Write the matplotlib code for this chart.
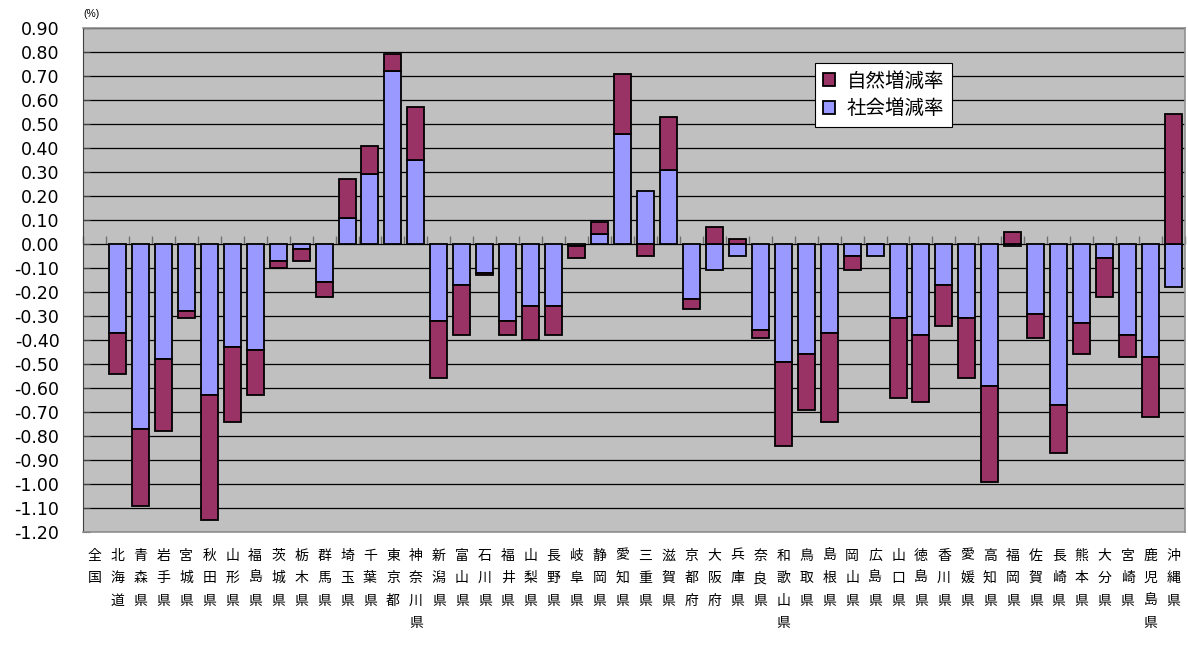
import matplotlib
matplotlib.use("Agg")
import matplotlib.pyplot as plt
import numpy as np

plt.rcParams['font.family'] = ['Liberation Sans', 'Noto Sans CJK JP', 'DejaVu Sans']

# 都道府県（全国はバーなし）
prefs = ['全国', '北海道', '青森県', '岩手県', '宮城県', '秋田県', '山形県', '福島県',
         '茨城県', '栃木県', '群馬県', '埼玉県', '千葉県', '東京都', '神奈川県',
         '新潟県', '富山県', '石川県', '福井県', '山梨県', '長野県', '岐阜県', '静岡県',
         '愛知県', '三重県', '滋賀県', '京都府', '大阪府', '兵庫県', '奈良県', '和歌山県',
         '鳥取県', '島根県', '岡山県', '広島県', '山口県', '徳島県', '香川県', '愛媛県',
         '高知県', '福岡県', '佐賀県', '長崎県', '熊本県', '大分県', '宮崎県', '鹿児島県',
         '沖縄県']

# 社会増減率 (%)
social = [np.nan, -0.37, -0.77, -0.48, -0.28, -0.63, -0.43, -0.44,
          -0.07, -0.02, -0.16, 0.11, 0.29, 0.72, 0.35,
          -0.32, -0.17, -0.12, -0.32, -0.26, -0.26, -0.01, 0.04,
          0.46, 0.22, 0.31, -0.23, -0.11, -0.05, -0.36, -0.49,
          -0.46, -0.37, -0.05, -0.05, -0.31, -0.38, -0.17, -0.31,
          -0.59, -0.01, -0.29, -0.67, -0.33, -0.06, -0.38, -0.47,
          -0.18]

# 自然増減率 (%)
natural = [np.nan, -0.17, -0.32, -0.30, -0.03, -0.52, -0.31, -0.19,
           -0.03, -0.05, -0.06, 0.16, 0.12, 0.07, 0.22,
           -0.24, -0.21, -0.01, -0.06, -0.14, -0.12, -0.05, 0.05,
           0.25, -0.05, 0.22, -0.04, 0.07, 0.02, -0.03, -0.35,
           -0.23, -0.37, -0.06, 0.00, -0.33, -0.28, -0.17, -0.25,
           -0.40, 0.05, -0.10, -0.20, -0.13, -0.16, -0.09, -0.25,
           0.54]

yticks = np.round(np.arange(-1.2, 0.91, 0.1), 2)

social = np.array(social)
natural = np.array(natural)
x = np.arange(len(prefs))
# Excel風の積み上げ：同符号なら社会増減率の上に、異符号なら0から
nat_bottom = np.where(np.sign(natural) == np.sign(social), social, 0.0)

fig = plt.figure(figsize=(11.88, 6.45), dpi=100)
ax = fig.add_axes([83 / 1188, 1 - 532 / 645, 1102 / 1188, 504 / 645])
ax.set_facecolor('#C0C0C0')

ax.bar(x, social, width=0.74, color='#9999FF', edgecolor='black', linewidth=1.3,
       label='社会増減率', zorder=3)
ax.bar(x, natural, width=0.74, bottom=nat_bottom, color='#993366', edgecolor='black',
       linewidth=1.3, label='自然増減率', zorder=3)

ax.set_xlim(-0.5, len(prefs) - 0.5)
ax.set_ylim(-1.2, 0.9)
ax.set_yticks(yticks)
ax.set_yticklabels(['%.2f' % v if v != 0 else '0.00' for v in yticks],
                   family=['DejaVu Sans'], fontsize=12.5)
ax.yaxis.grid(True, color='black', linewidth=0.9, zorder=1)
ax.set_axisbelow(True)
ax.tick_params(axis='y', direction='in', length=5, pad=17, color='#404040')

ax.set_xticks(x)
ax.set_xticklabels(['\n'.join(p) for p in prefs], fontsize=10,
                   family=['Noto Sans CJK JP', 'DejaVu Sans'])
for lbl in ax.get_xticklabels():
    lbl.set_linespacing(1.78)
ax.tick_params(axis='x', length=0, pad=12)

for s in ['top', 'right', 'bottom']:
    ax.spines[s].set_color('#909090')
    ax.spines[s].set_linewidth(1.2)
ax.spines['left'].set_color('#404040')

# 0の位置のカテゴリ区切り目盛
zero_frac = (0 - ax.get_ylim()[0]) / (ax.get_ylim()[1] - ax.get_ylim()[0])
sec = ax.secondary_xaxis(zero_frac)
sec.set_alignment('bottom')
sec.set_xticks(np.arange(-0.5, len(prefs), 1.0))
sec.tick_params(direction='in', length=6, width=1, color='#707070',
                labelbottom=False, labeltop=False)
for s in sec.spines.values():
    s.set_visible(False)

ax.text(0.0, 1.018, '(%)', transform=ax.transAxes, fontsize=7.5, ha='left', va='bottom')

handles, labels = ax.get_legend_handles_labels()
leg = ax.legend(handles[::-1], labels[::-1], loc='upper left', bbox_to_anchor=(0.664, 0.931),
                prop={'family': ['Noto Sans CJK JP'], 'size': 14},
                fancybox=False, framealpha=1, edgecolor='black', handlelength=0.65,
                handleheight=0.65, handletextpad=0.6, borderpad=0.4, labelspacing=0.35,
                borderaxespad=0)
leg.get_frame().set_linewidth(0.8)

fig.savefig('out.png', dpi=100)
